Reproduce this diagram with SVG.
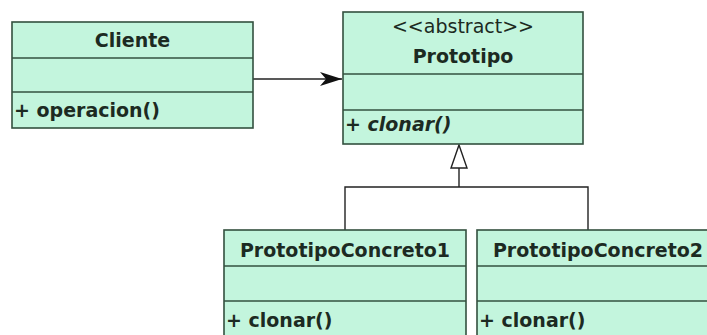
<svg xmlns="http://www.w3.org/2000/svg" width="707" height="335" viewBox="0 0 707 335">
<style>
.box{fill:#c3f5dd;stroke:#33503f;stroke-width:1.6}
.div{stroke:#33503f;stroke-width:1.6}
.t{font-family:"DejaVu Sans",Verdana,sans-serif;font-size:19px;fill:#1c2a22}
.b{font-weight:bold}
.c{text-anchor:middle}
.i{font-style:italic}
.conn{fill:none;stroke:#222;stroke-width:1.4}
</style>
<defs>
<marker id="arrow" markerWidth="24" markerHeight="16" refX="22" refY="8" orient="auto" markerUnits="userSpaceOnUse">
<path d="M0,1 L22,8 L0,15 L6,8 Z" fill="#111"/>
</marker>
</defs>
<rect width="707" height="335" fill="#fff"/>
<g id="connectors">
<line class="conn" x1="253" y1="79" x2="342" y2="79" marker-end="url(#arrow)"/>
<polyline class="conn" points="345,230 345,187 588,187 588,230"/>
<line class="conn" x1="459" y1="187" x2="459" y2="168"/>
<path d="M459,145 L467,168 L451,168 Z" fill="#fff" stroke="#222" stroke-width="1.4"/>
</g>
<g id="cliente">
<rect class="box" x="12" y="22" width="241" height="106"/>
<line class="div" x1="12" y1="58" x2="253" y2="58"/>
<line class="div" x1="12" y1="92" x2="253" y2="92"/>
<text class="t b c" x="132.5" y="47">Cliente</text>
<text class="t b" x="14" y="117">+ operacion()</text>
</g>
<g id="prototipo">
<rect class="box" x="343" y="12" width="240" height="132"/>
<line class="div" x1="343" y1="74" x2="583" y2="74"/>
<line class="div" x1="343" y1="110" x2="583" y2="110"/>
<text class="t c" x="463" y="33" font-size="18">&lt;&lt;abstract&gt;&gt;</text>
<text class="t b c" x="463" y="63">Prototipo</text>
<text class="t b i" x="345" y="131">+ clonar()</text>
</g>
<g id="concreto1">
<rect class="box" x="224" y="230" width="242" height="130"/>
<line class="div" x1="224" y1="266" x2="466" y2="266"/>
<line class="div" x1="224" y1="301" x2="466" y2="301"/>
<text class="t b c" x="345" y="257">PrototipoConcreto1</text>
<text class="t b" x="226" y="327">+ clonar()</text>
</g>
<g id="concreto2">
<rect class="box" x="477" y="230" width="242" height="130"/>
<line class="div" x1="477" y1="266" x2="719" y2="266"/>
<line class="div" x1="477" y1="301" x2="719" y2="301"/>
<text class="t b c" x="598" y="257">PrototipoConcreto2</text>
<text class="t b" x="479" y="327">+ clonar()</text>
</g>
</svg>
